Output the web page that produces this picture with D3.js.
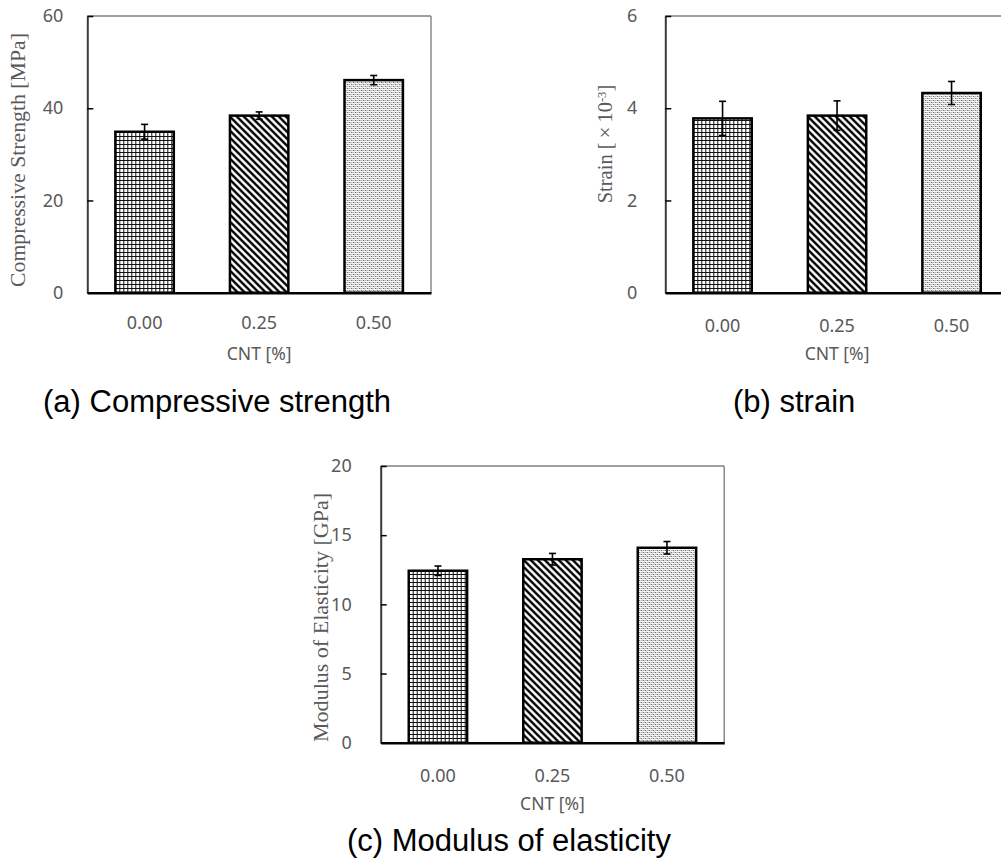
<!DOCTYPE html>
<html><head><meta charset="utf-8">
<script src="https://cdn.jsdelivr.net/npm/d3@7"></script>
<style>body{margin:0;background:#fff} svg{display:block}</style>
</head><body>
<svg id="chart" width="1001" height="859"></svg>
<script>
// ---- data ----
const categories = ["0.00", "0.25", "0.50"];
const strengthValues = [34.9, 38.4, 46.1];
const strengthErrors = [1.6, 0.8, 1.0];
const strainValues = [3.78, 3.84, 4.33];
const strainErrors = [0.37, 0.32, 0.25];
const modulusValues = [12.43, 13.26, 14.09];
const modulusErrors = [0.34, 0.42, 0.45];
const strengthTicks = [0, 20, 40, 60];
const strainTicks = [0, 2, 4, 6];
const modulusTicks = [0, 5, 10, 15, 20];
const xTitle = "CNT [%]";
const barPatterns = ["grid", "diag", "dots"];

const svg = d3.select("#chart");
const defs = svg.append("defs");

// grid pattern
const pg = defs.append("pattern").attr("id", "grid").attr("patternUnits", "userSpaceOnUse")
  .attr("width", 4).attr("height", 4);
pg.append("rect").attr("width", 4).attr("height", 4).attr("fill", "#fff");
pg.append("rect").attr("x", 0).attr("y", 0).attr("width", 4).attr("height", 1).attr("fill", "#111");
pg.append("rect").attr("x", 0).attr("y", 0).attr("width", 1).attr("height", 4).attr("fill", "#111");

// diagonal "\" pattern
const pd = defs.append("pattern").attr("id", "diag").attr("patternUnits", "userSpaceOnUse")
  .attr("width", 7).attr("height", 7);
pd.append("rect").attr("width", 7).attr("height", 7).attr("fill", "#fff");
pd.append("path").attr("d", "M-7,-7L14,14M-7,0L7,14M0,-7L14,7")
  .attr("stroke", "#000").attr("stroke-width", 2.4);

// dotted pattern
const pdot = defs.append("pattern").attr("id", "dots").attr("patternUnits", "userSpaceOnUse")
  .attr("width", 4).attr("height", 4);
pdot.append("rect").attr("width", 4).attr("height", 4).attr("fill", "#fff");
[[0,0,"#333"],[2,2,"#333"],[2,0,"#999"],[0,2,"#999"],[1,1,"#ddd"],[3,3,"#ddd"]].forEach(([x,y,c]) => {
  pdot.append("rect").attr("x", x).attr("y", y).attr("width", 1).attr("height", 1).attr("fill", c);
});

const panels = [
  { values: strengthValues, errors: strengthErrors, ticks: strengthTicks, yMax: 60,
    left: 87.3, top: 16, width: 343.7, height: 276.7, yPad: 24, xPad: 23.5, cntY: 360,
    title: "Compressive  Strength [MPa]", tx: 25, ty: 160, tlen: 254, tsize: 21,
    caption: "(a) Compressive strength", cx: 43, cy: 412, rightBorder: true },
  { values: strainValues, errors: strainErrors, ticks: strainTicks, yMax: 6,
    left: 665.3, top: 16, width: 343.5, height: 276.7, yPad: 28, xPad: 27, cntY: 360,
    title: null, tx: 612, ty: 144, tsize: 20.5,
    caption: "(b) strain", cx: 733, cy: 412, rightBorder: true },
  { values: modulusValues, errors: modulusErrors, ticks: modulusTicks, yMax: 20,
    left: 380.7, top: 466, width: 343.5, height: 276.7, yPad: 29, xPad: 27, cntY: 810,
    title: "Modulus of Elasticity [GPa]", tx: 328, ty: 617.5, tlen: 249, tsize: 22,
    caption: "(c) Modulus of elasticity", cx: 347, cy: 851, rightBorder: true }
];

const tickFont = "'Noto Sans', 'Open Sans', sans-serif";
const gray = "#595959";

panels.forEach((p, pi) => {
  const g = svg.append("g").attr("transform", `translate(${p.left},${p.top})`);
  const x = d3.scaleBand().domain(categories).range([0, p.width]).paddingInner(0.49).paddingOuter(0.245);
  const y = d3.scaleLinear().domain([0, p.yMax]).range([p.height, 0]);

  // top & right border
  g.append("line").attr("x1", 0).attr("x2", p.width).attr("y1", 0).attr("y2", 0)
    .attr("stroke", "#7f7f7f").attr("stroke-width", 1.5);
  if (p.rightBorder) g.append("line").attr("x1", p.width).attr("x2", p.width).attr("y1", 0).attr("y2", p.height)
    .attr("stroke", "#8a8a8a").attr("stroke-width", 1.5);

  // bars
  g.selectAll("rect.bar").data(categories).join("rect").attr("class", "bar")
    .attr("x", d => x(d)).attr("width", x.bandwidth())
    .attr("y", (d, i) => y(p.values[i])).attr("height", (d, i) => y(0) - y(p.values[i]))
    .attr("fill", (d, i) => `url(#${barPatterns[i]})`)
    .attr("stroke", "#000").attr("stroke-width", 2.5);

  // error bars
  const eb = g.selectAll("g.err").data(categories).join("g").attr("class", "err");
  eb.append("line")
    .attr("x1", d => x(d) + x.bandwidth() / 2).attr("x2", d => x(d) + x.bandwidth() / 2)
    .attr("y1", (d, i) => y(p.values[i] + p.errors[i])).attr("y2", (d, i) => y(p.values[i] - p.errors[i]))
    .attr("stroke", "#000").attr("stroke-width", 1.6);
  [1, -1].forEach(s => {
    eb.append("line")
      .attr("x1", d => x(d) + x.bandwidth() / 2 - 3.5).attr("x2", d => x(d) + x.bandwidth() / 2 + 3.5)
      .attr("y1", (d, i) => y(p.values[i] + s * p.errors[i])).attr("y2", (d, i) => y(p.values[i] + s * p.errors[i]))
      .attr("stroke", "#000").attr("stroke-width", 1.6);
  });

  // y axis
  const ya = g.append("g").call(d3.axisLeft(y).tickValues(p.ticks).tickFormat(d3.format("d"))
    .tickSizeInner(-6).tickSizeOuter(0).tickPadding(p.yPad));
  ya.select(".domain").attr("stroke", "#3a3a3a").attr("stroke-width", 2);
  ya.selectAll(".tick line").attr("stroke", "#000").attr("stroke-width", 1.5);
  ya.selectAll(".tick text").attr("fill", gray).style("font-family", tickFont).style("font-size", "18px");

  // x axis
  const xa = g.append("g").attr("transform", `translate(0,${p.height})`)
    .call(d3.axisBottom(x).tickSize(0).tickPadding(p.xPad));
  xa.select(".domain").attr("stroke", "#000").attr("stroke-width", 2.5);
  xa.selectAll(".tick text").attr("fill", gray).style("font-family", tickFont).style("font-size", "18px");

  // x title
  svg.append("text").attr("x", p.left + p.width * 0.5).attr("y", p.cntY)
    .attr("text-anchor", "middle").attr("fill", gray)
    .style("font-family", tickFont).style("font-size", "17.5px").text(xTitle);

  // y title
  const t = svg.append("text").attr("transform", `translate(${p.tx},${p.ty}) rotate(-90)`)
    .attr("text-anchor", "middle").attr("fill", gray)
    .style("font-family", "'Liberation Serif', 'Times New Roman', serif").style("font-size", p.tsize + "px");
  if (p.title) {
    t.text(p.title).attr("textLength", p.tlen).attr("lengthAdjust", "spacingAndGlyphs");
  } else {
    t.append("tspan").text("Strain [\u2009×\u200910");
    t.append("tspan").attr("dy", "-0.45em").style("font-size", "0.62em").text("-3");
    t.append("tspan").attr("dy", "0.28em").text("]");
  }

  // caption
  svg.append("text").attr("x", p.cx).attr("y", p.cy).attr("fill", "#000")
    .style("font-family", "'Liberation Sans', Arial, sans-serif").style("font-size", "31px").text(p.caption);
});
</script>
</body></html>
